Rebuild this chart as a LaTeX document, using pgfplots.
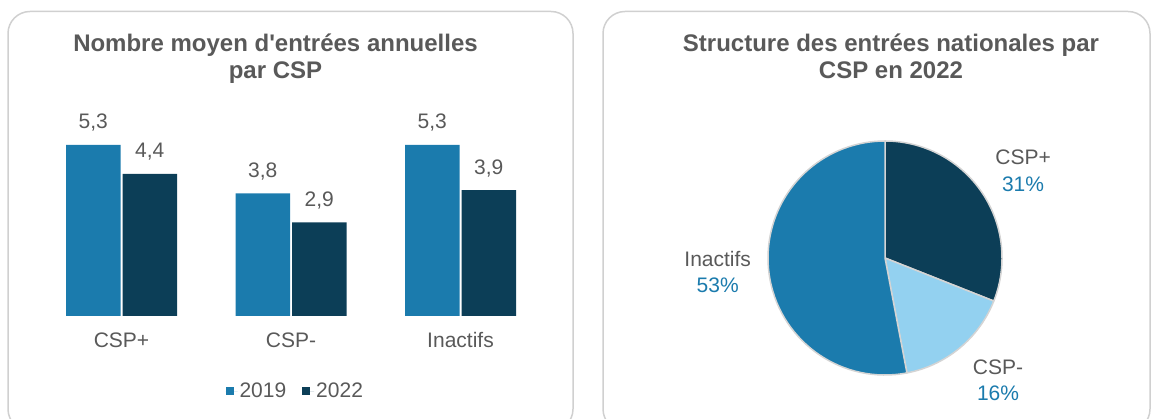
\documentclass[border=0pt]{standalone}
\usepackage{pgfplots}
\pgfplotsset{compat=1.18}
\usepackage{fontspec}
\setmainfont{Liberation Sans}[Ligatures=TeXOff]

\definecolor{c2019}{HTML}{1B7BAD}
\definecolor{c2022}{HTML}{0C3E57}
\definecolor{clight}{HTML}{93D1F0}
\definecolor{txt}{HTML}{595959}
\definecolor{panel}{HTML}{D0D0D0}
\definecolor{sep}{HTML}{D4D4D4}

\newcommand{\fs}{\fontsize{21}{25}\selectfont}
\newcommand{\ft}{\fontsize{24}{28}\selectfont\bfseries}

% parts of the pie (percent)
\def\pPlus{31}
\def\pMinus{16}
\def\pInact{53}

\begin{document}
\begin{tikzpicture}
\useasboundingbox (0pt,0pt) rectangle (1155pt,419pt);
\clip (0pt,0pt) rectangle (1155pt,419pt);
% panels
\draw[panel, line width=1.5pt, rounded corners=22pt] (8pt,-12pt) rectangle (573pt,407.5pt);
\draw[panel, line width=1.5pt, rounded corners=22pt] (603pt,-12pt) rectangle (1150pt,407.5pt);
% titles
\node[font=\ft, text=txt, anchor=base] at (275.5pt,367.3pt) {Nombre moyen d'entrées annuelles};
\node[font=\ft, text=txt, anchor=base] at (275.5pt,340.7pt) {par CSP};
\node[font=\ft, text=txt, anchor=base] at (891pt,367.3pt) {Structure des entrées nationales par};
\node[font=\ft, text=txt, anchor=base] at (891pt,340.7pt) {CSP en 2022};

% bar chart: category 0 at x=121.5pt, baseline at y=103pt
\begin{axis}[
  at={(19.8pt,103pt)}, anchor=south west,
  x=169.5pt, y=32.3pt,
  xmin=-0.6, xmax=2.6, ymin=0, ymax=6,
  clip=false,
  ybar=2pt, bar width=54.5pt,
  axis line style={draw=none}, tick style={draw=none},
  ytick=\empty,
  xtick={0,1,2}, xticklabels={CSP+,CSP-,Inactifs},
  xticklabel style={font=\fs, text=txt, anchor=base, yshift=-27pt},
  /pgf/number format/assume math mode=true,
  /pgf/number format/.cd, use comma, fixed, fixed zerofill, precision=1, /pgfplots/.cd,
  nodes near coords,
  nodes near coords style={font=\fs, text=txt, anchor=base, yshift=16pt},
  legend style={at={(axis cs:1.025,-2.33)}, anchor=center, draw=none, fill=none,
    legend columns=-1, font=\fs, text=txt,
    nodes={inner sep=2pt},
    /tikz/every even column/.append style={column sep=14pt}},
  legend image code/.code={\path (0pt,0pt) -- (12pt,0pt);
    \fill[#1] (0pt,-4pt) rectangle (8pt,4pt);},
]
\addplot[fill=c2019, draw=none] coordinates {(0,5.3) (1,3.8) (2,5.3)};
\addplot[fill=c2022, draw=none] coordinates {(0,4.4) (1,2.9) (2,3.9)};
\legend{2019,2022}
\end{axis}

% pie chart: centre at (885pt,161pt), radius 117pt
\begin{axis}[
  at={(709.5pt,8.9pt)}, anchor=south west,
  x=117pt, y=117pt,
  xmin=-1.5, xmax=1.5, ymin=-1.3, ymax=1.3,
  hide axis, clip=false,
]
\pgfmathsetmacro{\aA}{90}
\pgfmathsetmacro{\aB}{90-3.6*\pPlus}
\pgfmathsetmacro{\aC}{\aB-3.6*\pMinus}
\pgfmathsetmacro{\aD}{\aC-3.6*\pInact}
\filldraw[fill=c2022, draw=sep, line width=1.5pt, line join=round]
  (axis cs:0,0) -- ++(\aA:117pt) arc[start angle=\aA, end angle=\aB, radius=117pt] -- cycle;
\filldraw[fill=clight, draw=sep, line width=1.5pt, line join=round]
  (axis cs:0,0) -- ++(\aB:117pt) arc[start angle=\aB, end angle=\aC, radius=117pt] -- cycle;
\filldraw[fill=c2019, draw=sep, line width=1.5pt, line join=round]
  (axis cs:0,0) -- ++(\aC:117pt) arc[start angle=\aC, end angle=\aD, radius=117pt] -- cycle;
\node[font=\fs, text=txt, anchor=base] at (axis cs:1.18,0.8) {CSP+};
\node[font=\fs, text=c2019, anchor=base] at (axis cs:1.18,0.57) {\pPlus\%};
\node[font=\fs, text=txt, anchor=base] at (axis cs:0.966,-1.0) {CSP-};
\node[font=\fs, text=c2019, anchor=base] at (axis cs:0.966,-1.22) {\pMinus\%};
\node[font=\fs, text=txt, anchor=base] at (axis cs:-1.43,-0.075) {Inactifs};
\node[font=\fs, text=c2019, anchor=base] at (axis cs:-1.43,-0.295) {\pInact\%};
\end{axis}
\end{tikzpicture}
\end{document}
